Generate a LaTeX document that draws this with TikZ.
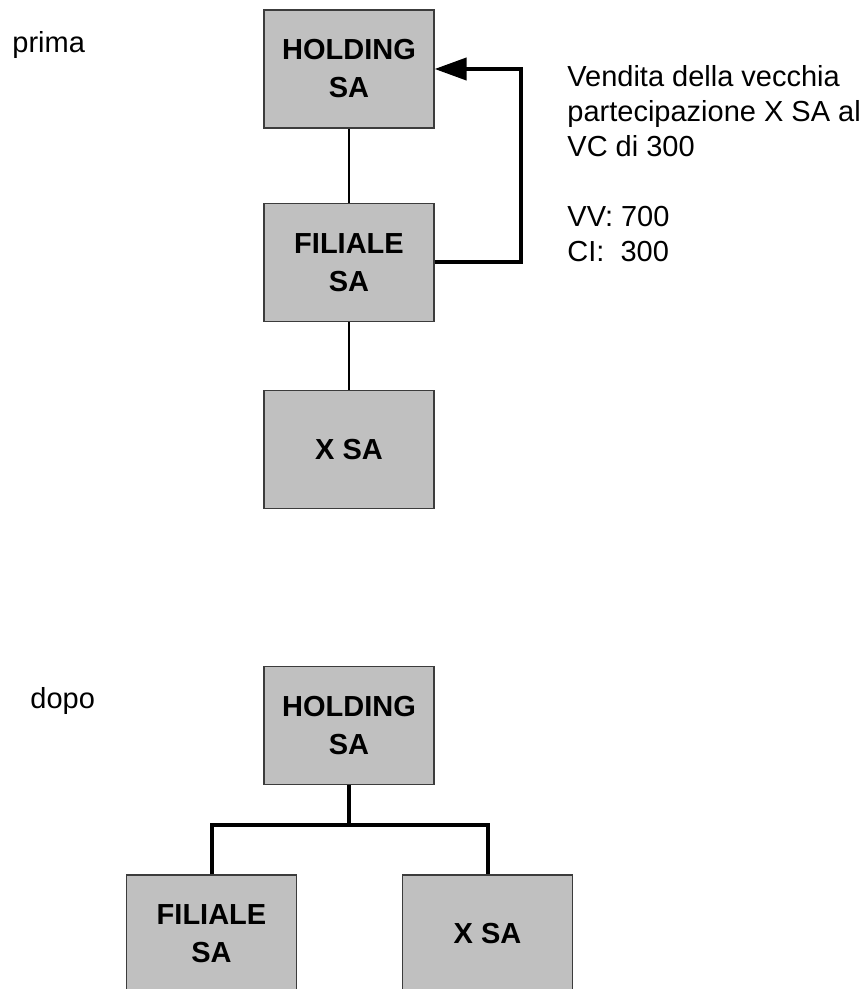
\documentclass[tikz,border=0pt]{standalone}
\usepackage{fontspec}
\setmainfont{Liberation Sans}
\usepackage{tikz}
\usetikzlibrary{positioning,arrows.meta,calc}
\definecolor{boxgray}{RGB}{192,192,192}
\definecolor{boxline}{RGB}{60,60,60}
\tikzset{
  company/.style={rectangle, draw=boxline, line width=0.6pt, fill=boxgray,
                  minimum width=85pt, minimum height=59pt, inner sep=2pt, align=center,
                  font=\fontsize{14.5}{19}\selectfont\bfseries},
  link/.style={line width=0.6pt, black},
  tree/.style={line width=2pt, black},
  flow/.style={-{Triangle[length=16pt,width=11pt]}, line width=2pt, black},
  stage/.style={anchor=base west, inner sep=0pt, font=\fontsize{14.5}{17.5}\selectfont},
  note/.style={anchor=base west, inner sep=0pt, align=left, font=\fontsize{14.5}{17.5}\selectfont}
}
\begin{document}
\begin{tikzpicture}[x=0.5pt, y=-0.5pt]
\useasboundingbox (0,0) rectangle (866,989);
\clip (0,0) rectangle (866,989);
\node (prima) [stage] at (12,53) {prima};
\node (hp) [company] at (349,69) {HOLDING\\SA};
\node (fp) [company] at (349,262.5) {FILIALE\\SA};
\node (xp) [company] at (349,449.5) {X SA};
\draw[link] (hp) -- (fp);
\draw[link] (fp) -- (xp);
\coordinate (bend) at (521,69);
\draw[flow] (fp.east) -| (bend) -- (hp.east);
\node (vendita) [note] at (567,262) {Vendita della vecchia\\partecipazione X SA al\\VC di 300\\\mbox{}\\VV: 700\\CI:\ \ 300};
\node (dopo) [stage] at (30,708) {dopo};
\node (hd) [company] at (349,725.5) {HOLDING\\SA};
\node (fd) [company] at (211.5,934) {FILIALE\\SA};
\node (xd) [company] at (487.5,934) {X SA};
\coordinate (fork) at (349,825);
\draw[tree] (hd.south) -- (fork);
\draw[tree] (fd.north) |- (fork) -| (xd.north);
\end{tikzpicture}
\end{document}
